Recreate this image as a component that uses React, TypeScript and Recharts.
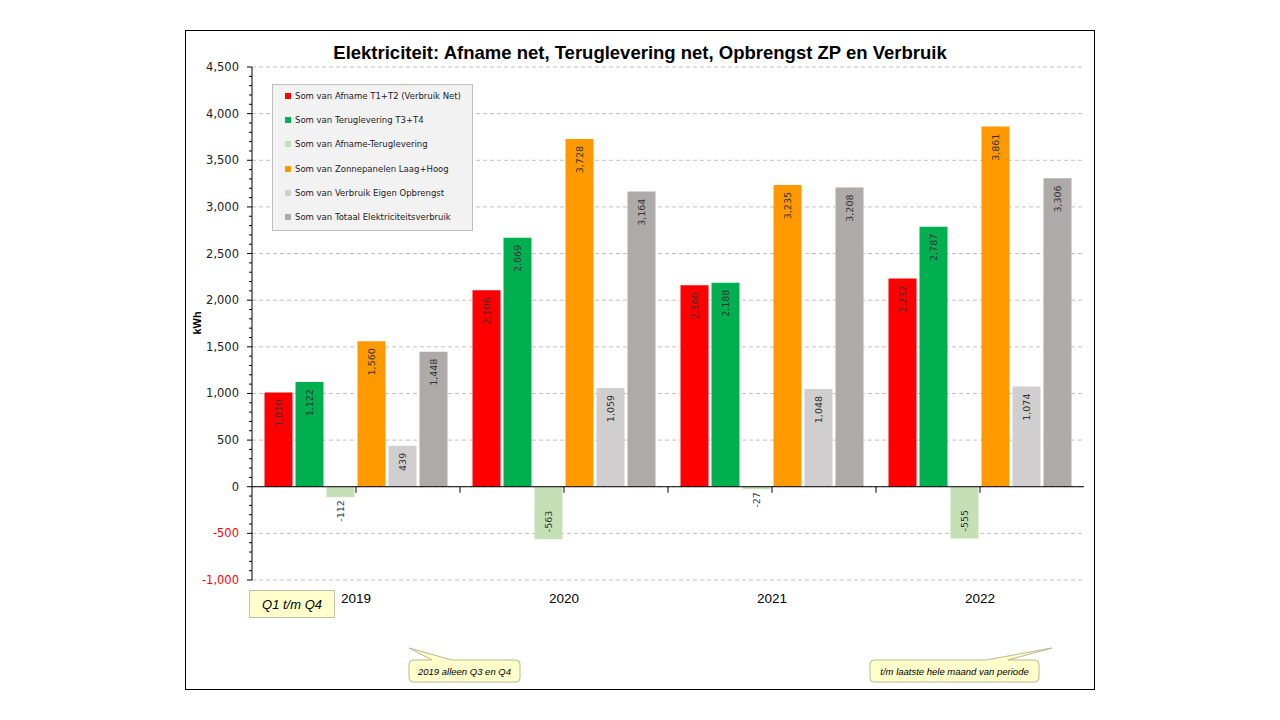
import React from "react"
import { Bar, BarChart, CartesianGrid, ReferenceLine, XAxis, YAxis } from "recharts"

const years = ["2019", "2020", "2021", "2022"]
const afname = [1010, 2106, 2160, 2232]
const teruglevering = [1122, 2669, 2188, 2787]
const afnameMinTeruglevering = [-112, -563, -27, -555]
const zonnepanelen = [1560, 3728, 3235, 3861]
const eigenVerbruik = [439, 1059, 1048, 1074]
const totaalVerbruik = [1448, 3164, 3208, 3306]

const yMajorTicks = [-1000, -500, 0, 500, 1000, 1500, 2000, 2500, 3000, 3500, 4000, 4500]

const series = [
  { key: "afname", name: "Som van Afname T1+T2 (Verbruik Net)", color: "#ff0000", values: afname },
  { key: "terug", name: "Som van Teruglevering T3+T4", color: "#00b050", values: teruglevering },
  { key: "saldo", name: "Som van Afname-Teruglevering", color: "#c5e0b4", values: afnameMinTeruglevering },
  { key: "zon", name: "Som van Zonnepanelen Laag+Hoog", color: "#ff9900", values: zonnepanelen },
  { key: "eigen", name: "Som van Verbruik Eigen Opbrengst", color: "#d0cece", values: eigenVerbruik },
  { key: "totaal", name: "Som van Totaal Elektriciteitsverbruik", color: "#aeaaaa", values: totaalVerbruik },
]

const data = years.map((year, i) => {
  const row: Record<string, string | number> = { year }
  series.forEach((s) => {
    row[s.key] = s.values[i]
  })
  return row
})

// minor ticks on the value axis, one every 100 kWh
const yAllTicks: number[] = []
for (let v = -1000; v <= 4500; v += 100) yAllTicks.push(v)

const fmt = (v: number) => v.toLocaleString("en-US")

const YTick = (props: any) => {
  const { x, y, payload } = props
  const v = payload.value as number
  const major = v % 500 === 0
  return (
    <g>
      <line x1={x - (major ? 5 : 3)} x2={x} y1={y} y2={y} stroke="#000" />
      {major && (
        <text
          x={x - 13}
          y={y}
          textAnchor="end"
          dominantBaseline="central"
          fontFamily="DejaVu Sans"
          fontSize={11.5}
          fill={v < 0 ? "#ff0000" : "#222"}
        >
          {fmt(v)}
        </text>
      )}
    </g>
  )
}

const XTick = (props: any) => {
  const { x, y, payload } = props
  return (
    <text
      x={x}
      y={y + 18}
      textAnchor="middle"
      dominantBaseline="central"
      fontFamily="Liberation Sans"
      fontSize={13.5}
      fill="#000"
    >
      {payload.value}
    </text>
  )
}

const renderLabel = (props: any) => {
  const { x, y, width, height, value } = props
  const top = Math.min(y, y + height)
  const bottom = Math.max(y, y + height)
  const cx = x + width / 2
  const text = fmt(value)
  const textLen = text.length * 5.8
  let py = top + 7
  let anchor = "end"
  if (value < 0) {
    if (bottom - top > textLen + 12) {
      py = bottom - 7
      anchor = "start"
    } else {
      py = bottom + 3
      anchor = "end"
    }
  }
  return (
    <text
      x={cx}
      y={py}
      transform={`rotate(-90, ${cx}, ${py})`}
      textAnchor={anchor}
      dominantBaseline="central"
      fontFamily="DejaVu Sans"
      fontSize={9.5}
      fill="#333"
    >
      {text}
    </text>
  )
}

export default function App() {
  return (
    <div style={{ position: "absolute", left: 0, top: 0, width: 1280, height: 720, background: "#fff" }}>
      <div
        style={{
          position: "absolute",
          left: 185,
          top: 30,
          width: 910,
          height: 660,
          border: "1px solid #000",
          boxSizing: "border-box",
          background: "#fff",
        }}
      >
        <BarChart
          width={908}
          height={658}
          data={data}
          margin={{ top: 36, right: 10, left: 6, bottom: 79 }}
          barCategoryGap={12.5}
          barGap={3}
        >
          <CartesianGrid
            vertical={false}
            horizontalValues={yMajorTicks}
            stroke="#c0c0c0"
            strokeDasharray="4 3"
          />
          <XAxis
            dataKey="year"
            axisLine={false}
            tickLine={false}
            tickSize={0}
            tickMargin={0}
            height={30}
            tick={<XTick />}
          />
          <YAxis
            domain={[-1000, 4500]}
            ticks={yAllTicks}
            interval={0}
            width={60}
            tickSize={0}
            tickMargin={0}
            tickLine={false}
            axisLine={{ stroke: "#000" }}
            tick={<YTick />}
            allowDataOverflow
          />
          {series.map((s) => (
            <Bar key={s.key} dataKey={s.key} name={s.name} fill={s.color} isAnimationActive={false} label={renderLabel} />
          ))}
          <ReferenceLine y={0} stroke="#000" />
          {years.map((yr) => (
            <ReferenceLine
              key={"mid" + yr}
              segment={[
                { x: yr, y: 0 },
                { x: yr, y: -65 },
              ]}
              stroke="#000"
            />
          ))}
          {years.slice(1).map((yr) => (
            <ReferenceLine
              key={"start" + yr}
              segment={[
                { x: yr, y: 0 },
                { x: yr, y: -65 },
              ]}
              position="start"
              stroke="#000"
            />
          ))}
        </BarChart>

        {/* title */}
        <div
          style={{
            position: "absolute",
            left: 0,
            top: 10,
            width: 908,
            textAlign: "center",
            fontFamily: "Liberation Sans",
            fontWeight: "bold",
            fontSize: 18.5,
            lineHeight: "24px",
            color: "#000",
          }}
        >
          Elektriciteit: Afname net, Teruglevering net, Opbrengst ZP en Verbruik
        </div>

        {/* axis title */}
        <div
          style={{
            position: "absolute",
            left: 11,
            top: 292,
            transform: "translate(-50%, -50%) rotate(-90deg)",
            fontFamily: "Liberation Sans",
            fontWeight: "bold",
            fontSize: 11,
            color: "#000",
            whiteSpace: "nowrap",
          }}
        >
          kWh
        </div>

        {/* legend */}
        <div
          style={{
            position: "absolute",
            left: 86,
            top: 53,
            width: 201,
            height: 147,
            background: "#f2f2f2",
            border: "1px solid #bfbfbf",
            boxSizing: "border-box",
          }}
        >
          {series.map((s, i) => (
            <div
              key={s.key}
              style={{
                position: "absolute",
                left: 12,
                top: 5 + i * 24.2,
                height: 12,
                display: "flex",
                alignItems: "center",
                fontFamily: "DejaVu Sans",
                fontSize: 8.5,
                color: "#222",
                whiteSpace: "nowrap",
              }}
            >
              <span style={{ display: "inline-block", width: 6, height: 6, background: s.color, marginRight: 4 }} />
              {s.name}
            </div>
          ))}
        </div>

        {/* period note */}
        <div
          style={{
            position: "absolute",
            left: 63,
            top: 559,
            width: 86,
            height: 28,
            background: "#ffffcc",
            border: "1px solid #bfbfa8",
            boxSizing: "border-box",
            display: "flex",
            alignItems: "center",
            justifyContent: "center",
            fontFamily: "Liberation Sans",
            fontStyle: "italic",
            fontSize: 13,
            color: "#000",
          }}
        >
          Q1 t/m Q4
        </div>

        {/* callouts */}
        <svg width={908} height={658} style={{ position: "absolute", left: 0, top: 0, pointerEvents: "none" }}>
          <path
            d="M 227 629 L 246 629 L 223 617 L 266 629 L 330 629 Q 334 629 334 633 L 334 647 Q 334 651 330 651 L 227 651 Q 223 651 223 647 L 223 633 Q 223 629 227 629 Z"
            fill="#ffffcc"
            stroke="#b8b890"
          />
          <text
            x={278.5}
            y={640.5}
            textAnchor="middle"
            dominantBaseline="central"
            fontFamily="Liberation Sans"
            fontStyle="italic"
            fontSize={9.5}
            fill="#000"
          >
            2019 alleen Q3 en Q4
          </text>
          <path
            d="M 688 629 L 800 629 L 866 617 L 822 629 L 849 629 Q 853 629 853 633 L 853 647 Q 853 651 849 651 L 688 651 Q 684 651 684 647 L 684 633 Q 684 629 688 629 Z"
            fill="#ffffcc"
            stroke="#b8b890"
          />
          <text
            x={768.5}
            y={640.5}
            textAnchor="middle"
            dominantBaseline="central"
            fontFamily="Liberation Sans"
            fontStyle="italic"
            fontSize={9.5}
            fill="#000"
          >
            t/m laatste hele maand van periode
          </text>
        </svg>
      </div>
    </div>
  )
}
